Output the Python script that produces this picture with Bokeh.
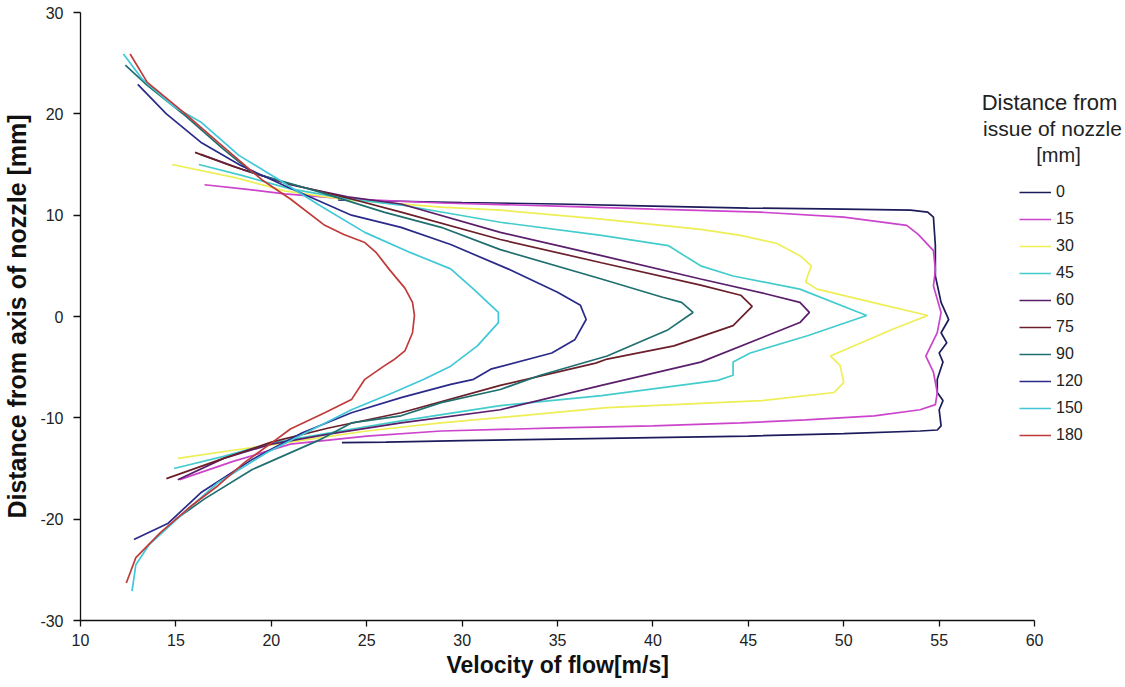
from bokeh.plotting import figure
from bokeh.models import Legend, LegendItem, Label, FixedTicker, PrintfTickFormatter, Title
from bokeh.embed import file_html
from bokeh.resources import INLINE

# ---- data (velocity [m/s], distance from nozzle axis [mm]) ----
series_names = ["0", "15", "30", "45", "60", "75", "90", "120", "150", "180"]

v0 = [23.5, 26.0, 30.0, 35.0, 40.0, 45.0, 50.0, 53.5, 54.4, 54.7, 54.8, 54.8, 55.1, 55.5, 55.1, 55.4,
      55.0, 55.2, 54.9, 54.9, 55.2, 55.0, 55.1, 54.9, 54.0, 50.0, 45.0, 40.0, 35.0, 30.0, 26.0, 23.7]
d0 = [11.5, 11.4, 11.25, 11.1, 10.9, 10.7, 10.6, 10.5, 10.3, 9.8, 7.0, 4.0, 1.4, -0.3, -1.6, -2.6,
      -3.6, -4.5, -6.2, -7.5, -8.3, -9.2, -10.8, -11.2, -11.3, -11.55, -11.8, -11.95, -12.1, -12.25, -12.4, -12.45]

v15 = [16.5, 18.5, 20.7, 24.0, 28.9, 35.0, 40.0, 45.6, 50.0, 53.3, 53.9, 54.7, 54.8, 54.7, 55.1, 54.9,
       54.3, 54.7, 54.9, 54.8, 54.0, 51.6, 48.0, 44.6, 40.0, 35.0, 28.9, 25.0, 21.0, 18.0, 15.2]
d15 = [13.0, 12.6, 12.1, 11.6, 11.2, 10.9, 10.6, 10.3, 9.8, 9.0, 8.1, 6.5, 4.6, 3.0, 0.4, -1.6,
       -3.9, -5.5, -7.5, -8.7, -9.2, -9.8, -10.2, -10.5, -10.8, -11.0, -11.3, -11.8, -12.6, -14.3, -16.1]

v30 = [14.8, 18.1, 20.7, 24.0, 28.9, 32.0, 37.3, 42.5, 44.6, 46.5, 47.7, 48.3, 48.0, 48.6, 51.5, 54.4,
       52.5, 49.3, 49.8, 50.0, 49.5, 45.7, 37.6, 28.9, 25.0, 21.0, 18.0, 15.1]
d30 = [15.0, 13.7, 12.4, 11.5, 10.8, 10.5, 9.6, 8.6, 8.0, 7.2, 6.0, 5.0, 3.4, 2.7, 1.4, 0.1,
       -1.3, -3.9, -4.8, -6.5, -7.5, -8.3, -9.0, -10.5, -11.3, -12.4, -13.2, -14.0]

v45 = [16.2, 18.5, 21.0, 24.0, 26.8, 32.0, 37.3, 40.8, 42.5, 44.2, 47.7, 51.2, 48.1, 45.1, 44.2, 44.2,
       43.4, 37.3, 32.0, 26.8, 23.0, 20.0, 17.5, 14.9]
d45 = [15.0, 13.9, 12.6, 11.6, 11.0, 9.3, 8.0, 7.0, 5.0, 4.0, 2.7, 0.1, -1.9, -3.6, -4.5, -5.8,
       -6.3, -7.8, -8.8, -10.3, -11.5, -12.5, -13.8, -15.0]

v60 = [16.3, 18.5, 21.0, 24.0, 26.8, 32.0, 37.3, 42.5, 46.0, 47.7, 48.2, 47.7, 42.5, 37.3, 32.0, 26.8,
       23.0, 20.0, 17.5, 15.1]
d60 = [16.0, 14.5, 13.0, 11.8, 11.1, 8.3, 6.0, 3.7, 2.2, 1.4, 0.4, -0.6, -4.5, -6.8, -9.2, -10.5,
       -11.6, -12.6, -14.0, -16.1]

v75 = [16.0, 18.0, 20.7, 24.2, 26.8, 32.0, 37.3, 42.5, 44.6, 45.2, 44.2, 41.1, 37.6, 37.0, 32.0, 26.8,
       23.0, 20.0, 17.5, 14.5]
d75 = [16.2, 14.8, 13.2, 11.6, 10.3, 7.6, 5.3, 3.1, 2.1, 1.0, -0.9, -2.9, -4.2, -4.6, -6.8, -9.5,
       -11.0, -12.4, -14.0, -16.0]

v90 = [12.35, 13.5, 15.5, 17.5, 19.0, 22.5, 25.9, 28.9, 32.0, 37.3, 40.5, 41.5, 42.1, 40.8, 37.6, 34.1,
       32.0, 28.9, 26.8, 24.2, 22.5, 19.0, 16.5, 15.0]
d90 = [24.8, 22.8, 19.8, 16.5, 14.2, 12.3, 10.3, 8.8, 6.6, 3.7, 1.9, 1.4, 0.4, -1.3, -3.9, -5.8,
       -7.2, -8.5, -9.8, -10.5, -12.2, -15.1, -18.0, -20.0]

v120 = [13.0, 14.5, 16.3, 18.4, 20.7, 24.2, 26.8, 29.4, 32.4, 35.0, 36.2, 36.5, 35.9, 34.7, 31.5, 30.6,
        29.4, 26.8, 24.2, 21.6, 19.0, 16.3, 14.6, 12.8]
d120 = [22.9, 20.0, 17.2, 14.9, 12.9, 10.0, 8.8, 7.1, 4.7, 2.4, 1.1, -0.3, -2.3, -3.6, -5.2, -6.2,
        -6.7, -8.0, -9.5, -11.5, -14.1, -17.4, -20.4, -22.0]

v150 = [12.25, 13.2, 14.9, 16.3, 18.3, 20.4, 22.5, 24.9, 27.3, 29.4, 30.6, 31.9, 31.9, 30.8, 29.4, 28.0,
        26.4, 24.2, 22.1, 19.8, 17.2, 15.4, 13.6, 12.9, 12.7]
d150 = [25.9, 23.5, 20.7, 19.2, 15.9, 13.5, 11.0, 8.3, 6.3, 4.7, 2.7, 0.4, -0.6, -2.9, -4.9, -6.2,
        -7.5, -9.2, -11.2, -13.4, -16.4, -19.4, -22.5, -24.5, -27.1]

v180 = [12.6, 13.5, 15.5, 17.2, 19.5, 21.0, 22.8, 23.8, 24.9, 25.5, 26.2, 27.0, 27.4, 27.5, 27.4, 27.0,
        26.4, 25.9, 24.9, 24.2, 22.8, 21.0, 20.0, 18.6, 17.2, 15.8, 14.2, 12.9, 12.4]
d180 = [25.9, 23.1, 20.0, 17.2, 13.5, 11.6, 9.0, 8.1, 7.3, 6.3, 4.6, 2.8, 1.4, 0.1, -1.6, -3.4,
        -4.3, -4.9, -6.2, -8.2, -9.5, -11.1, -12.5, -14.4, -16.7, -18.7, -21.3, -23.8, -26.3]

x_ticks = [10, 15, 20, 25, 30, 35, 40, 45, 50, 55, 60]
y_ticks = [-30, -20, -10, 0, 10, 20, 30]

velocities = [v0, v15, v30, v45, v60, v75, v90, v120, v150, v180]
distances = [d0, d15, d30, d45, d60, d75, d90, d120, d150, d180]
colors = ["#1c1c5c", "#cc44cc", "#eeee55", "#44cccc", "#5a1f6a",
          "#6a1f2a", "#1f6f70", "#2a2a8a", "#40c8d8", "#c03a3a"]

FONT = "Liberation Sans"

# layout: the frame runs to the right edge so that legend texts are not clipped;
# the visible x axis is bounded to 10..60 and spans AXIS_PX pixels.
W, H = 1122, 681
LEFT, TOP, BOTTOM = 79, 12, 61
AXIS_PX = 955
frame_w = W - LEFT
x_end = x_ticks[0] + (x_ticks[-1] - x_ticks[0]) * frame_w / AXIS_PX

p = figure(width=W, height=H, x_range=(x_ticks[0], x_end), y_range=(y_ticks[0], y_ticks[-1]),
           output_backend="svg", toolbar_location=None,
           min_border_left=LEFT, min_border_right=0, min_border_top=TOP, min_border_bottom=BOTTOM)

p.grid.visible = False
p.outline_line_color = None
p.background_fill_color = "white"

p.xaxis.ticker = FixedTicker(ticks=x_ticks)
p.yaxis.ticker = FixedTicker(ticks=y_ticks)
p.xaxis.bounds = (x_ticks[0], x_ticks[-1])
for ax in (p.xaxis, p.yaxis):
    ax.formatter = PrintfTickFormatter(format="%d")
    ax.axis_line_color = "#111111"
    ax.axis_line_width = 1.3
    ax.major_tick_line_color = "#111111"
    ax.major_tick_line_width = 1.3
    ax.major_tick_in = 0
    ax.minor_tick_line_color = None
    ax.major_label_text_font = FONT
    ax.major_label_text_font_size = "16px"
    ax.major_label_text_color = "#222222"
    ax.axis_label_text_font = FONT
    ax.axis_label_text_font_style = "bold"
    ax.axis_label_text_color = "#111111"

p.xaxis.major_tick_out = 6
p.xaxis.major_label_standoff = 7

p.yaxis.major_tick_out = 7
p.yaxis.major_label_standoff = 10
p.yaxis.axis_label = "Distance from axis of nozzle [mm]"
p.yaxis.axis_label_text_font_size = "25px"
p.yaxis.axis_label_standoff = 6

# x axis title, left-aligned under the bounded axis (starts 366 px right of the frame's left edge)
p.add_layout(Title(text="Velocity of flow[m/s]", align="left", offset=366, standoff=2,
                   text_font=FONT, text_font_size="23px", text_font_style="bold",
                   text_color="#111111"), "below")

items = []
for name, vs, ds, c in zip(series_names, velocities, distances, colors):
    r = p.line(vs, ds, line_color=c, line_width=1.7)
    items.append(LegendItem(label=name, renderers=[r]))

legend = Legend(items=items, location=(939, 175), glyph_width=32, glyph_height=20,
                label_height=20, spacing=7, padding=0, margin=0,
                border_line_color=None, background_fill_alpha=0,
                label_text_font=FONT, label_text_font_size="16px",
                label_text_color="#222222", label_standoff=5)
p.add_layout(legend)

title_lines = [("Distance from", 969, 518, "22px"), ("issue of nozzle", 972, 492, "21px"),
               ("[mm]", 978, 466, "20px")]
for txt, sx, sy, fs in title_lines:
    p.add_layout(Label(x=sx, y=sy, x_units="screen", y_units="screen", text=txt,
                       text_align="center", text_baseline="middle",
                       text_font=FONT, text_font_size=fs, text_color="#222222"))

open("out.html", "w").write(file_html(p, INLINE))
